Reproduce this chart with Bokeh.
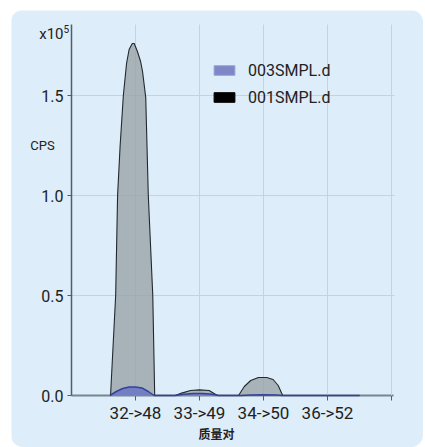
from bokeh.plotting import figure
from bokeh.models import Range1d, FixedTicker, Legend, LegendItem, Label
from bokeh.embed import file_html
from bokeh.resources import INLINE

# ---- data (CPS in units of 1e5) ----
categories = ["32->48", "33->49", "34->50", "36->52"]
cat_pos = [1, 2, 3, 4]

x_001 = [0.61, 0.69, 0.72, 0.76, 0.81, 0.86, 0.90, 0.95, 0.98, 1.03, 1.08, 1.11, 1.16, 1.20, 1.27, 1.30,
         1.62, 1.72, 1.86, 2.00, 2.15, 2.28,
         2.61, 2.70, 2.80, 2.92, 3.05, 3.15, 3.23, 3.30, 4.50]
y_001 = [0.0, 0.50, 1.00, 1.25, 1.50, 1.66, 1.73, 1.76, 1.76, 1.72, 1.67, 1.62, 1.49, 1.00, 0.50, 0.0,
         0.0, 0.012, 0.025, 0.028, 0.025, 0.0,
         0.0, 0.045, 0.075, 0.09, 0.09, 0.08, 0.05, 0.0, 0.0]

x_003 = [0.60, 0.70, 0.80, 0.90, 1.00, 1.10, 1.20, 1.29,
         1.62, 1.75, 1.90, 2.05, 2.20, 2.30,
         2.65, 2.80, 3.00, 3.20, 3.30, 4.50]
y_003 = [0.0, 0.02, 0.035, 0.042, 0.042, 0.038, 0.02, 0.0,
         0.0, 0.006, 0.010, 0.010, 0.006, 0.0,
         0.0, 0.003, 0.004, 0.003, 0.0, 0.0]

y_ticks = [0, 0.5, 1.0, 1.5]
y_tick_labels = ["0.0", "0.5", "1.0", "1.5"]
x_axis_bounds = (0, 5.03)
y_axis_bounds = (0, 1.855)
series_names = ["003SMPL.d", "001SMPL.d"]

PANEL = "#ddedfa"
FONT = "Roboto"

p = figure(width=412, height=437, output_backend="svg", toolbar_location=None,
           x_range=Range1d(-0.9375, 5.5), y_range=Range1d(-0.26, 1.925),
           min_border=0,
           background_fill_color=PANEL, border_fill_color=PANEL)
p.outline_line_color = None
p.styles = {"position": "absolute", "left": "11px", "top": "10px",
            "border-radius": "12px", "overflow": "hidden"}

# grid
p.xgrid.ticker = FixedTicker(ticks=[1, 2, 3, 4, 5])
p.xgrid.cross_bounds = y_axis_bounds
p.ygrid.ticker = FixedTicker(ticks=[0.5, 1.0, 1.5])
p.ygrid.cross_bounds = (0, 5.05)
p.grid.grid_line_color = "#c6d3de"
p.grid.grid_line_width = 1

# series 001 (grey area with black outline)
p.varea(x=x_001, y1=0, y2=y_001, fill_color="#97a1a7", fill_alpha=0.78)
p.line(x=x_001, y=y_001, line_color="#23282c", line_width=1.1)
# series 003 (blue)
p.varea(x=x_003, y1=0, y2=y_003, fill_color="#6f79c4", fill_alpha=0.9)
p.line(x=x_003, y=y_003, line_color="#34429a", line_width=1.5)

# axes at fixed data locations
xa = p.xaxis[0]
xa.level = "underlay"
xa.fixed_location = 0
xa.bounds = x_axis_bounds
xa.ticker = FixedTicker(ticks=cat_pos + [5])
overrides = {pos: lab for pos, lab in zip(cat_pos, categories)}
overrides[5] = ""
xa.major_label_overrides = overrides
xa.axis_line_color = "#7a8590"
xa.axis_line_width = 2
xa.major_tick_line_color = "#555c63"
xa.major_tick_out = 5
xa.major_tick_in = 0
xa.minor_tick_line_color = None
xa.major_label_text_font = FONT
xa.major_label_text_font_size = "17px"
xa.major_label_text_color = "#222222"
xa.major_label_standoff = 2

ya = p.yaxis[0]
ya.fixed_location = 0
ya.bounds = y_axis_bounds
ya.ticker = FixedTicker(ticks=y_ticks)
ya.major_label_overrides = {t: l for t, l in zip(y_ticks, y_tick_labels)}
ya.axis_line_color = "#555c63"
ya.axis_line_width = 1.5
ya.major_tick_line_color = "#555c63"
ya.major_tick_out = 4
ya.major_tick_in = 0
ya.minor_tick_line_color = None
ya.major_label_text_font = FONT
ya.major_label_text_font_size = "16px"
ya.major_label_text_color = "#222222"
ya.major_label_standoff = 4

# legend (proxy renderers placed outside the visible range)
r_blue = p.quad(left=[-30], right=[-29], top=[-29], bottom=[-30], fill_color="#7f87c9", line_color="#9aa2d8")
r_black = p.quad(left=[-30], right=[-29], top=[-29], bottom=[-30], fill_color="#000000", line_color="#000000")
legend = Legend(items=[LegendItem(label=series_names[0], renderers=[r_blue]),
                       LegendItem(label=series_names[1], renderers=[r_black])],
                location=(200, 340), background_fill_alpha=0, border_line_color=None,
                padding=0, margin=0, spacing=7, glyph_width=26, glyph_height=12,
                label_standoff=11, label_height=20,
                label_text_font=FONT, label_text_font_size="16px", label_text_color="#222222")
p.add_layout(legend)

# texts (screen units relative to the canvas bottom-left)
p.add_layout(Label(x=52, y=414, x_units="screen", y_units="screen", text="x10",
                   text_font=FONT, text_font_size="15px", text_color="#222222",
                   text_align="right", text_baseline="middle"))
p.add_layout(Label(x=52, y=419, x_units="screen", y_units="screen", text="5",
                   text_font=FONT, text_font_size="10px", text_color="#222222",
                   text_align="left", text_baseline="middle"))
p.add_layout(Label(x=31, y=302, x_units="screen", y_units="screen", text="CPS",
                   text_font=FONT, text_font_size="13px", text_color="#222222",
                   text_align="center", text_baseline="middle"))
p.add_layout(Label(x=205, y=14, x_units="screen", y_units="screen", text="质量对",
                   text_font="Noto Sans CJK SC", text_font_size="12px", text_font_style="bold",
                   text_color="#222222", text_align="center", text_baseline="middle"))

open("out.html", "w").write(file_html(p, INLINE))
